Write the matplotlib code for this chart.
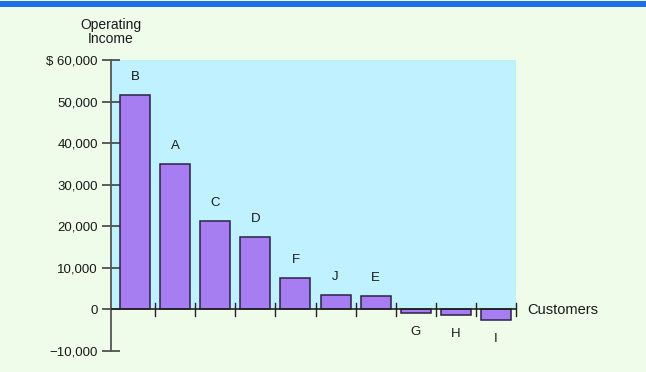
import matplotlib
matplotlib.use("Agg")
import matplotlib.pyplot as plt
from matplotlib.patches import Rectangle

plt.rcParams['font.family'] = ['Liberation Sans', 'DejaVu Sans']

customers = ['B', 'A', 'C', 'D', 'F', 'J', 'E', 'G', 'H', 'I']
income = [51700, 35000, 21200, 17400, 7500, 3400, 3300, -900, -1400, -2600]
yticks = [-10000, 0, 10000, 20000, 30000, 40000, 50000, 60000]
ytick_labels = ['\u221210,000', '0', '10,000', '20,000', '30,000', '40,000', '50,000', '$ 60,000']

W, H = 646, 372
fig = plt.figure(figsize=(W/100, H/100), dpi=100)
fig.patch.set_facecolor('#EEFCE9')
# top blue stripe
fig.add_artist(Rectangle((0, 1 - 7/H), 1, 6/H, transform=fig.transFigure,
                         facecolor='#1F6FE6', edgecolor='none'))

left, right = 111/W, 516/W
top, bottom = 1 - 60/H, 1 - 351/H
ax = fig.add_axes([left, bottom, right-left, top-bottom])
ax.set_facecolor('none')
ax.set_ylim(-10000, 60000)
n = len(customers)
ax.set_xlim(-0.6, n - 0.5)
ax.axhspan(0, 60000, facecolor='#C0F1FE', edgecolor='none', zorder=0)

x = list(range(n))
ax.bar(x, income, width=0.75, color='#A77EF2', edgecolor='#2B2245', linewidth=1.1, zorder=2)

for xi, v, name in zip(x, income, customers):
    if v >= 0:
        ax.text(xi, v + 4300, name, ha='center', va='center', fontsize=9.5, color='#1a1a1a')
    else:
        ax.text(xi, v - 4500, name, ha='center', va='center', fontsize=9.5, color='#1a1a1a')

for s in ['top', 'right', 'bottom']:
    ax.spines[s].set_visible(False)
ax.spines['left'].set_color('#555555')
ax.spines['left'].set_linewidth(1.3)
ax.axhline(0, color='#222222', linewidth=1.2, zorder=3)
# category boundary ticks on zero line
for b in [i + 0.5 for i in range(n)]:
    ax.plot([b, b], [-1500, 1500], color='#222222', linewidth=1.0, zorder=3, clip_on=False)

ax.set_yticks(yticks)
ax.set_yticklabels(ytick_labels, fontsize=9.5, color='#1a1a1a')
ax.tick_params(axis='y', direction='inout', length=13, width=1.1, color='#333333', pad=3)
ax.set_xticks([])

fig.text(111/W, 1 - 32/H, 'Operating\nIncome', ha='center', va='center', fontsize=10,
         color='#1a1a1a', linespacing=1.05)
fig.text(527/W, 1 - 310/H, 'Customers', ha='left', va='center', fontsize=10.5, color='#1a1a1a')

fig.savefig('out.png', dpi=100, facecolor=fig.get_facecolor())
